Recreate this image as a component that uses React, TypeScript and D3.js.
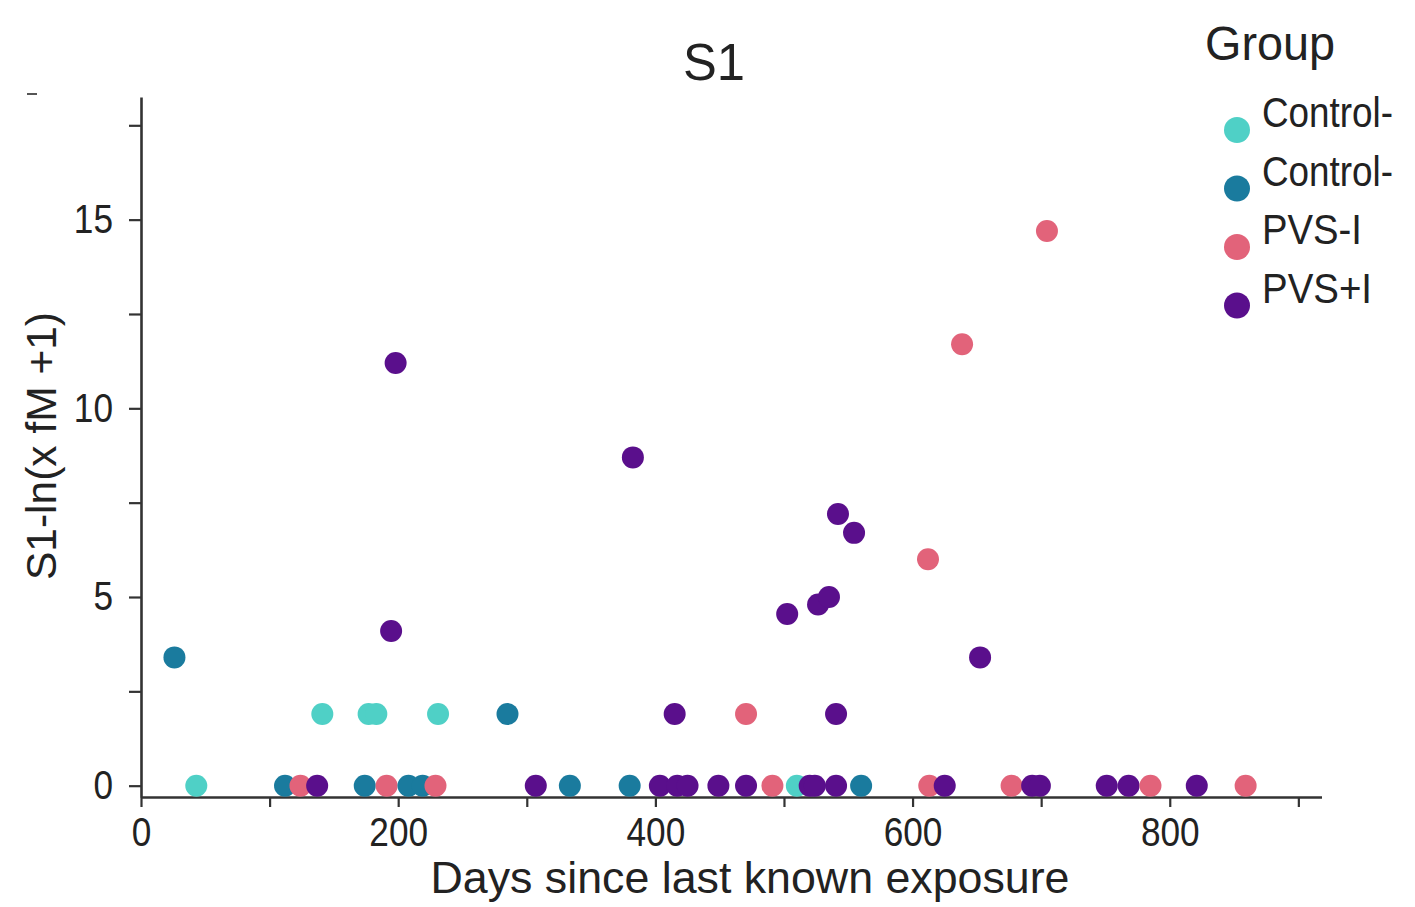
import React, { useEffect, useRef } from 'react';
import * as d3 from 'd3';

// groups as shown in the legend (the two control labels are cut off at the image edge)
const groupKeys = ['ctrlNeg', 'ctrlPos', 'pvsNeg', 'pvsPos'];
const groupLabels = ['Control-', 'Control-', 'PVS-I', 'PVS+I'];
const groupColors = ['#4fd0c6', '#1a7b9e', '#e2637a', '#5a0f8c'];

// Control- (turquoise)
const ctrlNegDays = [43, 141, 177, 183, 231, 510];
const ctrlNegValues = [0, 1.9, 1.9, 1.9, 1.9, 0];

// Control+ (teal)
const ctrlPosDays = [26, 112, 174, 208, 219, 285, 333.5, 380, 560];
const ctrlPosValues = [3.4, 0, 0, 0, 0, 1.9, 0, 0, 0];

// PVS-I (pink)
const pvsNegDays = [124, 191, 229, 470.5, 491, 612, 613, 638.5, 677, 704.5, 785, 859];
const pvsNegValues = [0, 0, 0, 1.9, 0, 6.0, 0, 11.7, 0, 14.7, 0, 0];

// PVS+I (purple)
const pvsPosDays = [137, 194.5, 198, 307, 382.5, 403.5, 415, 417, 425, 449, 470.5, 502.5, 520, 524,
  526.5, 535, 540.5, 540.5, 542, 554.5, 625, 652.5, 693, 699, 751, 768, 821];
const pvsPosValues = [0, 4.1, 11.2, 0, 8.7, 0, 1.9, 0, 0, 0, 0, 4.55, 0, 0,
  4.8, 5.0, 1.9, 0, 7.2, 6.7, 0, 3.4, 0, 0, 0, 0, 0];

// axis ticks
const xTicks = [0, 100, 200, 300, 400, 500, 600, 700, 800, 900];
const xTickLabels = [0, 200, 400, 600, 800];
const yTicks = [0, 2.5, 5, 7.5, 10, 12.5, 15, 17.5];
const yTickLabels = [0, 5, 10, 15];

const W = 1415, H = 907;
const FONT = '"Liberation Sans", Arial, sans-serif';

export default function App() {
  const ref = useRef<SVGSVGElement>(null);

  useEffect(() => {
    const svg = d3.select(ref.current);
    svg.selectAll('*').remove();

    svg.append('rect').attr('width', W).attr('height', H).attr('fill', '#fff');

    const x = d3.scaleLinear().domain([0, 918]).range([141, 1321.5]);
    const y = d3.scaleLinear().domain([-0.3, 18.25]).range([797, 97]);

    const sets = [
      [ctrlNegDays, ctrlNegValues],
      [ctrlPosDays, ctrlPosValues],
      [pvsNegDays, pvsNegValues],
      [pvsPosDays, pvsPosValues],
    ];
    const points: { d: number; v: number; g: number }[] = [];
    sets.forEach(([days, vals], g) => {
      days.forEach((d, i) => points.push({ d, v: vals[i], g }));
    });
    // later x drawn over earlier x, as in the reference
    points.sort((a, b) => a.d - b.d);

    const color = d3.scaleOrdinal<number, string>().domain([0, 1, 2, 3]).range(groupColors);

    // X axis
    const tickScale = 0.88;
    const xAxis = svg.append('g')
      .attr('transform', 'translate(0,797)')
      .call(d3.axisBottom(x)
        .tickValues(xTicks)
        .tickFormat(d => (xTickLabels.includes(+d) ? String(d) : ''))
        .tickSize(10)
        .tickPadding(11)
        .tickSizeOuter(0));

    // Y axis
    const yAxis = svg.append('g')
      .attr('transform', 'translate(141,0)')
      .call(d3.axisLeft(y)
        .tickValues(yTicks)
        .tickFormat(d => (yTickLabels.includes(+d) ? String(d) : ''))
        .tickSize(12)
        .tickPadding(16)
        .tickSizeOuter(0));

    [xAxis, yAxis].forEach(ax => {
      ax.select('.domain').attr('stroke', '#333').attr('stroke-width', 2.6);
      ax.selectAll('.tick line').attr('stroke', '#333').attr('stroke-width', 2.2);
      ax.selectAll('.tick text')
        .attr('font-family', FONT)
        .attr('font-size', 40)
        .attr('fill', '#222')
        .attr('transform', `scale(${tickScale},1)`);
    });
    yAxis.selectAll('.tick text').attr('x', -28 / tickScale);

    // points
    svg.append('g')
      .selectAll('circle')
      .data(points)
      .enter()
      .append('circle')
      .attr('cx', p => x(p.d))
      .attr('cy', p => y(p.v))
      .attr('r', 11)
      .attr('fill', p => color(p.g));

    // title
    svg.append('text')
      .attr('x', 714).attr('y', 80)
      .attr('text-anchor', 'middle')
      .attr('font-family', FONT).attr('font-size', 52).attr('fill', '#222')
      .attr('textLength', 62).attr('lengthAdjust', 'spacingAndGlyphs')
      .text('S1');

    // axis titles
    svg.append('text')
      .attr('x', 750).attr('y', 893)
      .attr('text-anchor', 'middle')
      .attr('font-family', FONT).attr('font-size', 45).attr('fill', '#222')
      .attr('textLength', 639).attr('lengthAdjust', 'spacingAndGlyphs')
      .text('Days since last known exposure');

    svg.append('text')
      .attr('transform', 'translate(56,446) rotate(-90)')
      .attr('text-anchor', 'middle')
      .attr('font-family', FONT).attr('font-size', 42).attr('fill', '#222')
      .attr('textLength', 268).attr('lengthAdjust', 'spacingAndGlyphs')
      .text('S1-ln(x fM +1)');

    // stray mark at top left of the source image
    svg.append('line')
      .attr('x1', 27).attr('x2', 37).attr('y1', 94).attr('y2', 94)
      .attr('stroke', '#555').attr('stroke-width', 2);

    // legend
    const legend = svg.append('g');
    legend.append('text')
      .attr('x', 1205).attr('y', 60)
      .attr('font-family', FONT).attr('font-size', 48).attr('fill', '#222')
      .attr('textLength', 130).attr('lengthAdjust', 'spacingAndGlyphs')
      .text('Group');

    const labelWidths = [131, 131, 100, 110];
    groupKeys.forEach((k, i) => {
      const cy = 130 + i * 58.5;
      legend.append('circle')
        .attr('cx', 1237).attr('cy', cy).attr('r', 13)
        .attr('fill', groupColors[i]);
      legend.append('text')
        .attr('x', 1262).attr('y', cy - 3)
        .attr('font-family', FONT).attr('font-size', 42).attr('fill', '#222')
        .attr('textLength', labelWidths[i]).attr('lengthAdjust', 'spacingAndGlyphs')
        .text(groupLabels[i]);
    });
  }, []);

  return (
    <svg ref={ref} width={W} height={H} style={{ position: 'absolute', left: 0, top: 0 }} />
  );
}
